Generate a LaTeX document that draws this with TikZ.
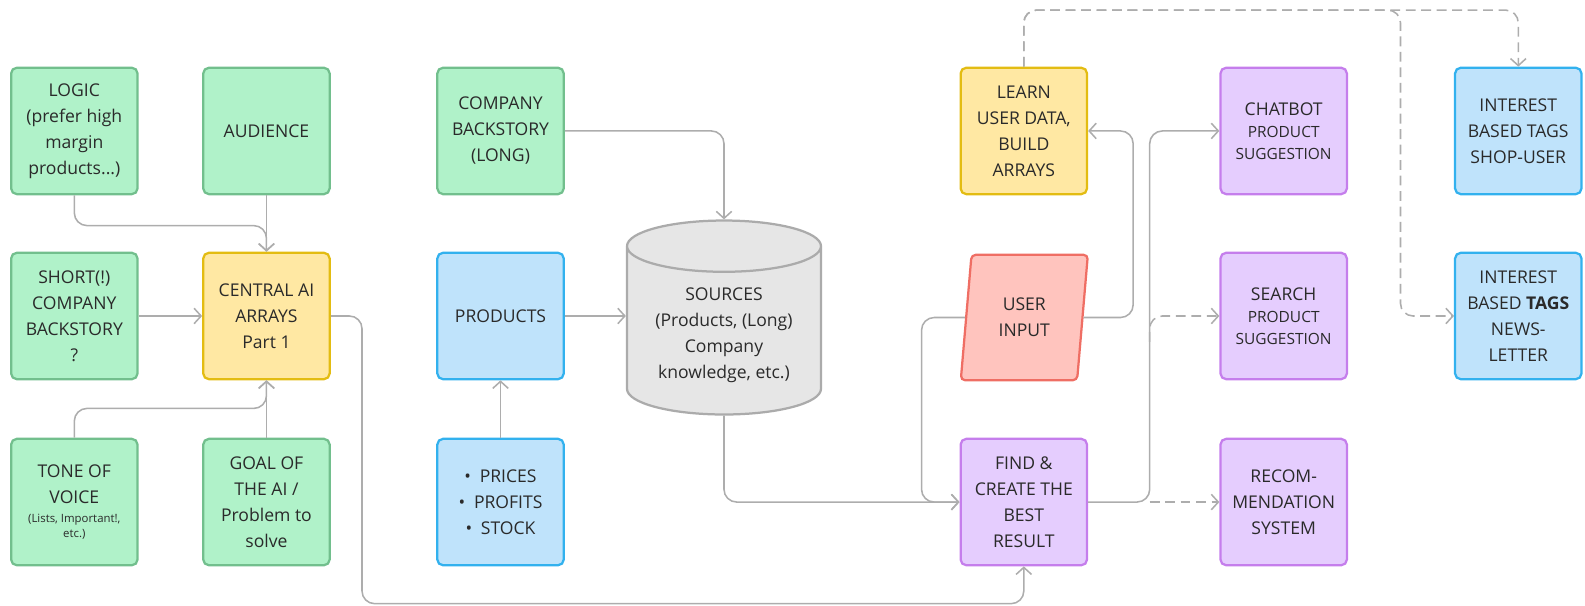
\documentclass[tikz,border=0pt]{standalone}
\usepackage{fontspec}
\setmainfont{Open Sans}
\usetikzlibrary{arrows.meta,shapes.geometric}

\definecolor{greenfill}{HTML}{B0F2C9}
\definecolor{greenline}{HTML}{72BF8D}
\definecolor{yellowfill}{HTML}{FFE8A3}
\definecolor{yellowline}{HTML}{E3BC12}
\definecolor{bluefill}{HTML}{BFE3FB}
\definecolor{blueline}{HTML}{32B1EE}
\definecolor{purplefill}{HTML}{E5CDFE}
\definecolor{purpleline}{HTML}{C57EEC}
\definecolor{redfill}{HTML}{FFC4BE}
\definecolor{redline}{HTML}{EF6E64}
\definecolor{dbfill}{HTML}{E6E6E6}
\definecolor{dbline}{HTML}{ABABAB}
\definecolor{linkgray}{HTML}{ADADAD}
\definecolor{textdark}{HTML}{2A2A2A}

\newcommand\boxfont{\fontsize{12.5}{18.5}\selectfont}
\newcommand\subline{\fontsize{11}{15.5}\selectfont}
\newcommand\noteline{\fontsize{8.1}{10.5}\selectfont}

\tikzset{
  box/.style={draw, rounded corners=4pt, line width=1.6pt, minimum width=3.16cm,
    minimum height=3.16cm, align=center, text=textdark, font=\boxfont, inner sep=2pt},
  greenbox/.style={box, fill=greenfill, draw=greenline},
  yellowbox/.style={box, fill=yellowfill, draw=yellowline},
  bluebox/.style={box, fill=bluefill, draw=blueline},
  purplebox/.style={box, fill=purplefill, draw=purpleline},
  inputbox/.style={box, rounded corners=3pt, fill=redfill, draw=redline, trapezium,
    trapezium left angle=82.6, trapezium right angle=97.4, trapezium stretches=true,
    minimum width=3.185cm, minimum height=3.135cm},
  sourcedb/.style={draw=dbline, fill=dbfill, line width=1.6pt, cylinder,
    shape border rotate=90, aspect=0.35, minimum width=4.85cm, minimum height=4.85cm,
    align=center, text=textdark, font=\boxfont, anchor=shape center},
  link/.style={draw=linkgray, line width=1.1pt, rounded corners=9pt,
    -{Straight Barb[length=5pt,width=11pt]}},
  linkdash/.style={link, dash pattern=on 7pt off 4pt},
}

\begin{document}
\begin{tikzpicture}[x=0.02528cm, y=-0.02528cm]
		\useasboundingbox (0,0) rectangle (1567.5,599.3);

		% Define nodes
		\node[greenbox] (logic) at (73.5,129.5) {LOGIC\\(prefer high\\margin\\products...)};
		\node[greenbox] (audience) at (263.5,129.5) {AUDIENCE};
		\node[greenbox] (shortstory) at (73.5,312.5) {SHORT(!)\\COMPANY\\BACKSTORY\\?};
		\node[yellowbox] (central) at (263.5,312.5) {CENTRAL AI\\ARRAYS\\Part 1};
		\node[greenbox] (tone) at (73.5,496.5)
			{TONE OF\\VOICE\\[-5pt]\noteline(Lists, Important!,\\[-7.5pt]\noteline etc.)};
		\node[greenbox] (goal) at (263.5,496.5) {GOAL OF\\THE AI /\\Problem to\\solve};

		\node[greenbox] (longstory) at (495,129.5) {COMPANY\\BACKSTORY\\(LONG)};
		\node[bluebox] (products) at (495,312.5) {PRODUCTS};
		\node[bluebox] (pricing) at (495,496.5)
			{\textbullet\enspace PRICES\\\textbullet\enspace PROFITS\\\textbullet\enspace STOCK};
		\node[sourcedb] (sources) at (716,314)
			{SOURCES\\(Products, (Long)\\Company\\knowledge, etc.)};

		\node[yellowbox] (learn) at (1012.5,129.5) {LEARN\\USER DATA,\\BUILD\\ARRAYS};
		\node[inputbox] (userin) at (1013,314) {USER\\INPUT};
		\node[purplebox] (find) at (1012.5,496.5) {FIND \&\\CREATE THE\\BEST\\RESULT};

		\node[purplebox] (chatbot) at (1269.5,129.5)
			{CHATBOT\\[-3pt]\subline PRODUCT\\[-3pt]\subline SUGGESTION};
		\node[purplebox] (search) at (1269.5,312.5)
			{SEARCH\\[-3pt]\subline PRODUCT\\[-3pt]\subline SUGGESTION};
		\node[purplebox] (recom) at (1269.5,496.5) {RECOM-\\MENDATION\\SYSTEM};

		\node[bluebox] (shoptags) at (1501.5,129.5) {INTEREST\\BASED TAGS\\SHOP-USER};
		\node[bluebox] (newstags) at (1501.5,312.5) {INTEREST\\BASED \textbf{TAGS}\\NEWS-\\LETTER};

		\coordinate (lowrail) at (358,597);
		\coordinate (fork) at (1137,496.5);
		\coordinate (searchtap) at (1137,338);
		\coordinate (tagsplit) at (1385,10);

		% Connect the nodes
		\draw[link] (logic.south) -- ++(0,30) -| (central.north);
		\draw[link] (audience) -- (central);
		\draw[link] (shortstory) -- (central);
		\draw[link] (tone.north) -- ++(0,-29) -| (central.south);
		\draw[link] (goal) -- (central);
		\draw[link] (central.east) -| (lowrail) -| (find.south);

		\draw[link] (longstory.east) -| (sources.north);
		\draw[link] (products.east) -- (sources.west |- products.east);
		\draw[link] (pricing) -- (products);
		\draw[link] (sources.south) |- (find.west);

		\draw[link] (userin.west) -- ++(-43,0) |- (find.west);
		\draw[link] (userin.east) -- ++(49,0) |- (learn.east);
		\draw[link] (find.east) -- (fork) |- (chatbot.west);
		\draw[linkdash] (fork) -- (recom.west);
		\draw[linkdash] (searchtap) |- (search.west);

		\draw[linkdash] (learn.north) |- (tagsplit) -| (shoptags.north);
		\draw[linkdash] (learn.north) |- (tagsplit) |- (newstags.west);
	\end{tikzpicture}
\end{document}
